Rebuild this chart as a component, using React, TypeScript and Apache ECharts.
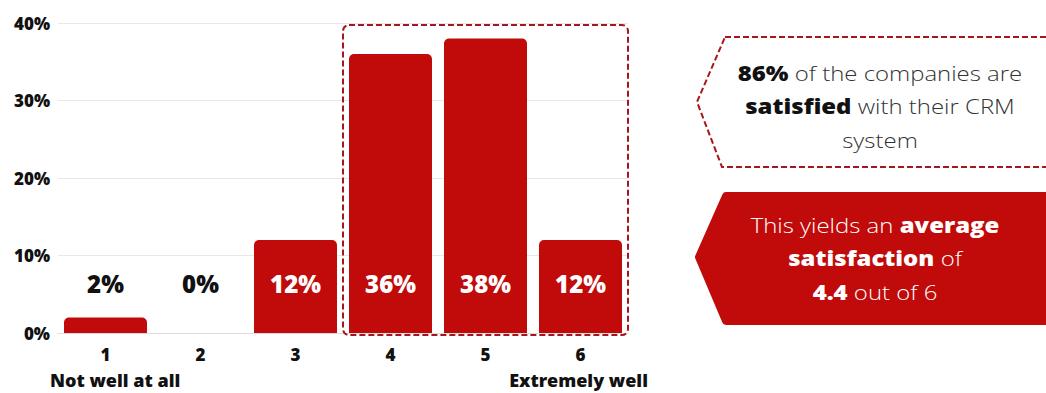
import React, { useEffect, useRef } from "react";
import * as echarts from "echarts";

const categories = ["1", "2", "3", "4", "5", "6"];
const shares = [2, 0, 12, 36, 38, 12];
const yTicks = [0, 10, 20, 30, 40];
const scaleEnds = ["Not well at all", "Extremely well"];
const calloutTop = ["{b|86%} of the companies are", "{b|satisfied} with their CRM", "system"];
const calloutBottom = ["This yields an {b|average}", "{b|satisfaction} of", "{b|4.4} out of 6"];

const RED = "#c10a0a";
const DASH_RED = "#a8161d";
const FONT = "'Open Sans', 'Noto Sans', sans-serif";

export default function App() {
  const ref = useRef<HTMLDivElement>(null);
  useEffect(() => {
    document.body.style.margin = "0";
    const chart = echarts.init(ref.current!, undefined, { renderer: "svg" });
    const textLines = (lines: string[], x: number, ys: number[], color: string, boldColor: string) =>
      lines.map((t, i) => ({
        type: "text",
        x,
        y: ys[i],
        scaleX: 1.14,
        style: {
          text: t,
          fill: color,
          font: `300 21px ${FONT}`,
          textAlign: "center",
          textVerticalAlign: "middle",
          rich: {
            b: { fontFamily: FONT, fontSize: 21, fontWeight: 800, fill: boldColor, color: boldColor },
          },
        },
      }));
    chart.setOption({
      animation: false,
      grid: { left: 58, top: 23, width: 570, height: 310 },
      xAxis: {
        type: "category",
        data: categories,
        axisTick: { show: false },
        axisLine: { lineStyle: { color: "#dddddd", width: 1 } },
        axisLabel: { color: "#111", fontFamily: FONT, fontWeight: 800, fontSize: 17, margin: 13 },
      },
      yAxis: {
        type: "value",
        min: yTicks[0],
        max: yTicks[yTicks.length - 1],
        interval: 10,
        axisLabel: {
          formatter: "{value}%",
          color: "#111",
          fontFamily: FONT,
          fontWeight: 800,
          fontSize: 17,
          margin: 8,
        },
        splitLine: { lineStyle: { color: "#e8e8e8", width: 1 } },
      },
      series: [
        {
          type: "bar",
          barWidth: 83,
          data: shares.map((v) => ({
            value: v,
            label: { color: v < 8 ? "#111" : "#ffffff" },
          })),
          itemStyle: { color: RED, borderRadius: [5, 5, 0, 0] },
          label: {
            show: true,
            position: "insideBottom",
            distance: 38,
            formatter: "{c}%",
            fontFamily: FONT,
            fontWeight: 800,
            fontSize: 24,
          },
        },
      ],
      graphic: [
        {
          type: "rect",
          shape: { x: 343, y: 25, width: 285, height: 310, r: 6 },
          style: { fill: "none", stroke: DASH_RED, lineWidth: 2, lineDash: [6, 3] },
          z: 10,
        },
        {
          type: "polygon",
          shape: { points: [[725, 37], [1060, 37], [1060, 167], [722, 167], [697, 102]] },
          style: { fill: "#ffffff", stroke: DASH_RED, lineWidth: 2, lineDash: [6, 3] },
        },
        {
          type: "polygon",
          shape: { points: [[726, 196], [1060, 196], [1060, 321], [726, 321], [699, 257]] },
          style: { fill: RED, stroke: RED, lineWidth: 8, lineJoin: "round" },
        },
        ...textLines(calloutTop, 880, [73, 106, 140], "#333333", "#111111"),
        ...textLines(calloutBottom, 875, [225, 258, 292], "#ffffff", "#ffffff"),
        {
          type: "text",
          x: 50,
          y: 380,
          style: { text: scaleEnds[0], fill: "#111", font: `800 18px ${FONT}`, textAlign: "left", textVerticalAlign: "middle" },
        },
        {
          type: "text",
          x: 648,
          y: 380,
          style: { text: scaleEnds[1], fill: "#111", font: `800 18px ${FONT}`, textAlign: "right", textVerticalAlign: "middle" },
        },
      ],
    });
    return () => chart.dispose();
  }, []);
  return <div ref={ref} style={{ width: 1046, height: 393 }} />;
}
